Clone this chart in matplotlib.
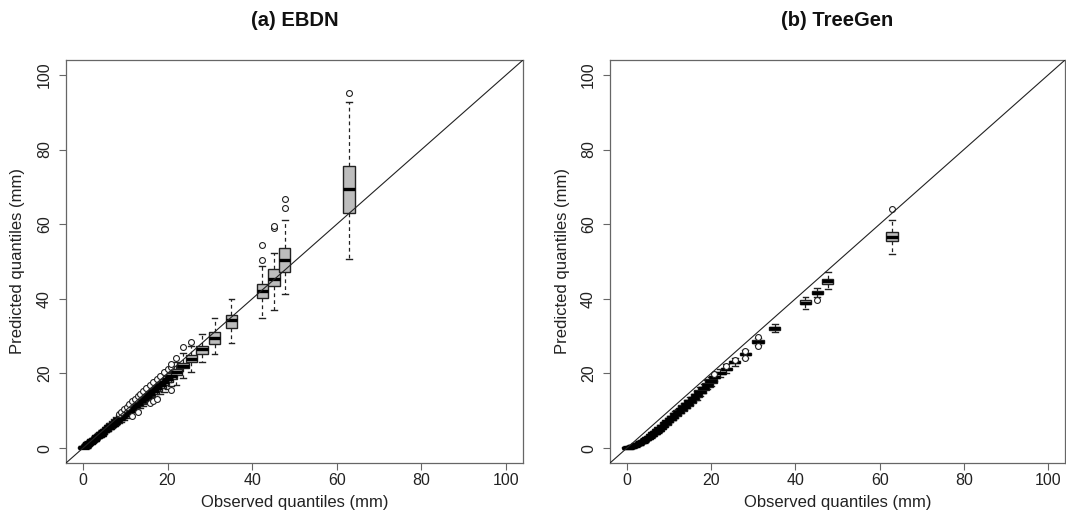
import numpy as np
import matplotlib.pyplot as plt
import matplotlib

matplotlib.rcParams['font.family'] = ['Liberation Sans', 'DejaVu Sans']

# ── observed quantiles (box positions, shared by both panels) ──────────
obs_q = [0.1, 0.3, 0.5, 0.8, 1.1, 1.4, 1.7, 2.0, 2.4, 2.8, 3.2, 3.6, 4.0, 4.4,
         4.9, 5.4, 5.9, 6.4, 6.9, 7.4, 7.9, 8.5, 9.1, 9.7, 10.3, 10.9, 11.5,
         12.2, 12.9, 13.6, 14.3, 15.0, 15.8, 16.6, 17.4, 18.2, 19.1, 20.0,
         20.8, 22.1, 23.6, 25.6, 28.1, 31.1, 35.1, 42.4, 45.2, 47.7, 62.9]

# ── (a) EBDN predicted quantiles ──────────────────────────────────────
ebdn_med = [0.1, 0.3, 0.4, 0.7, 1.0, 1.3, 1.5, 1.8, 2.2, 2.5, 2.9, 3.3, 3.6, 4.0,
            4.5, 4.9, 5.4, 5.8, 6.3, 6.8, 7.2, 7.8, 8.3, 8.9, 9.4, 10.0, 10.5,
            11.2, 11.8, 12.5, 13.1, 13.8, 14.5, 15.3, 16.0, 16.8, 17.6, 18.5,
            19.3, 20.4, 22.0, 23.9, 26.5, 29.4, 34.2, 42.1, 45.3, 50.3, 69.5]
ebdn_q1 = [0.0, 0.1, 0.3, 0.5, 0.8, 1.1, 1.3, 1.6, 2.0, 2.3, 2.7, 3.0, 3.3, 3.7,
           4.3, 4.7, 5.2, 5.6, 6.0, 6.5, 6.9, 7.5, 8.0, 8.5, 9.0, 9.6, 10.1,
           10.7, 11.3, 12.0, 12.6, 13.2, 13.9, 14.6, 15.3, 16.1, 16.9, 17.7,
           18.4, 19.6, 21.4, 23.0, 25.1, 27.9, 32.3, 40.1, 43.4, 47.1, 63.0]
ebdn_q3 = [0.2, 0.4, 0.6, 0.9, 1.2, 1.5, 1.7, 2.0, 2.4, 2.7, 3.1, 3.5, 3.9, 4.3,
           4.7, 5.1, 5.6, 6.1, 6.6, 7.1, 7.5, 8.1, 8.7, 9.3, 9.8, 10.4, 11.0,
           11.7, 12.3, 13.0, 13.7, 14.4, 15.1, 15.9, 16.7, 17.5, 18.4, 19.3,
           20.0, 21.2, 22.9, 24.9, 27.4, 31.0, 35.6, 44.1, 48.1, 53.6, 75.5]
ebdn_lo = [0.0, 0.0, 0.1, 0.3, 0.6, 0.8, 1.0, 1.3, 1.6, 1.9, 2.3, 2.6, 2.9, 3.2,
           3.9, 4.2, 4.6, 5.0, 5.4, 5.8, 6.2, 6.7, 7.1, 7.6, 8.1, 8.6, 9.0,
           9.6, 10.1, 10.7, 11.2, 11.8, 12.4, 13.1, 13.7, 14.4, 15.1, 15.9,
           16.6, 16.9, 18.9, 20.3, 23.0, 25.2, 28.2, 34.9, 37.0, 41.2, 50.8]
ebdn_hi = [0.4, 0.6, 0.8, 1.1, 1.4, 1.7, 2.0, 2.3, 2.7, 3.1, 3.5, 4.0, 4.4, 4.8,
           5.2, 5.7, 6.2, 6.7, 7.2, 7.8, 8.3, 8.9, 9.5, 10.0, 10.6, 11.2, 11.8,
           12.5, 13.2, 13.9, 14.6, 15.3, 16.1, 16.9, 17.8, 18.6, 19.6, 20.5,
           21.3, 23.2, 25.4, 27.4, 30.7, 34.8, 39.9, 48.8, 52.3, 61.0, 92.7]
ebdn_out_x = [8.5, 9.1, 9.7, 10.3, 10.9, 11.5, 12.2, 12.9, 13.6, 14.3, 15.0,
              15.8, 16.6, 17.4, 18.2, 19.1, 20.0, 20.8, 20.8, 22.1, 23.6, 25.6,
              11.5, 12.9, 15.8, 16.6, 17.4, 20.8,
              42.4, 42.4, 45.2, 45.2, 47.7, 47.7, 62.9]
ebdn_out_y = [9.2, 9.8, 10.5, 11.1, 11.8, 12.5, 13.2, 13.9, 14.6, 15.3, 16.0,
              16.8, 17.7, 18.5, 19.3, 20.3, 21.2, 21.8, 22.6, 24.1, 27.2, 28.5,
              8.6, 9.7, 12.0, 12.6, 13.2, 15.6,
              50.5, 54.4, 59.0, 59.4, 64.3, 66.7, 95.2]

# ── (b) TreeGen predicted quantiles ───────────────────────────────────
tg_med = [0.1, 0.1, 0.2, 0.3, 0.4, 0.5, 0.6, 0.8, 1.0, 1.2, 1.5, 1.7, 2.0, 2.3,
          2.7, 3.1, 3.5, 4.0, 4.4, 4.9, 5.4, 6.0, 6.6, 7.2, 7.8, 8.4, 9.0,
          9.7, 10.4, 11.1, 11.8, 12.6, 13.4, 14.2, 15.1, 16.0, 17.0, 17.9,
          19.1, 20.1, 21.2, 23.0, 25.2, 28.5, 32.1, 39.0, 41.6, 44.8, 56.5]
tg_q1 = [0.0, 0.0, 0.1, 0.2, 0.3, 0.4, 0.5, 0.7, 0.9, 1.0, 1.3, 1.5, 1.8, 2.1,
         2.5, 2.9, 3.3, 3.8, 4.2, 4.6, 5.1, 5.7, 6.3, 6.9, 7.5, 8.1, 8.7,
         9.3, 10.0, 10.7, 11.4, 12.2, 13.0, 13.8, 14.7, 15.5, 16.5, 17.4,
         18.8, 19.8, 20.9, 22.7, 24.9, 28.1, 31.7, 38.5, 41.2, 44.1, 55.5]
tg_q3 = [0.2, 0.2, 0.3, 0.4, 0.5, 0.6, 0.7, 0.9, 1.1, 1.4, 1.7, 1.9, 2.2, 2.5,
         2.9, 3.3, 3.7, 4.2, 4.6, 5.2, 5.7, 6.3, 6.9, 7.5, 8.1, 8.7, 9.3,
         10.1, 10.8, 11.5, 12.2, 13.0, 13.8, 14.6, 15.5, 16.5, 17.5, 18.4,
         19.3, 20.4, 21.5, 23.3, 25.5, 28.9, 32.5, 39.6, 42.0, 45.4, 58.0]
tg_lo = [0.0, 0.0, 0.0, 0.1, 0.1, 0.2, 0.3, 0.5, 0.7, 0.8, 1.1, 1.3, 1.6, 1.8,
         2.2, 2.6, 3.0, 3.4, 3.8, 4.3, 4.7, 5.3, 5.9, 6.4, 7.0, 7.5, 8.1,
         8.8, 9.4, 10.1, 10.7, 11.5, 12.3, 13.0, 13.9, 14.8, 15.7, 16.7,
         18.1, 19.0, 20.0, 21.9, 24.1, 27.6, 31.2, 37.4, 40.6, 42.5, 52.0]
tg_hi = [0.3, 0.3, 0.4, 0.5, 0.7, 0.8, 0.9, 1.1, 1.3, 1.6, 1.9, 2.1, 2.4, 2.8,
         3.2, 3.6, 4.0, 4.6, 5.0, 5.5, 6.1, 6.7, 7.3, 8.0, 8.6, 9.3, 9.9,
         10.6, 11.4, 12.1, 12.9, 13.7, 14.5, 15.4, 16.3, 17.2, 18.3, 19.1,
         20.1, 21.2, 22.4, 24.1, 26.3, 29.4, 33.2, 40.5, 43.0, 47.2, 61.2]
tg_out_x = [20.8, 23.6, 25.6, 28.1, 28.1, 31.1, 31.1, 45.2, 62.9]
tg_out_y = [19.8, 22.0, 23.6, 26.0, 24.1, 29.8, 27.4, 39.8, 64.0]

ticks = [0, 20, 40, 60, 80, 100]
edge_col = '#666666'


def draw_panel(ax, med, q1, q3, lo, hi, out_x, out_y, title):
    stats = []
    for i in range(len(obs_q)):
        stats.append(dict(med=med[i], q1=q1[i], q3=q3[i],
                          whislo=lo[i], whishi=hi[i], fliers=[]))
    ax.bxp(stats, positions=obs_q, widths=2.7, patch_artist=True,
           manage_ticks=False, showfliers=False,
           boxprops=dict(facecolor='#bdbdbd', edgecolor='#222222', linewidth=1.0),
           medianprops=dict(color='black', linewidth=2.4),
           whiskerprops=dict(color='#222222', linewidth=0.9, linestyle=(0, (3, 2.5))),
           capprops=dict(color='#222222', linewidth=1.0))
    ax.scatter(out_x, out_y, s=18, facecolors='white', edgecolors='#222222',
               linewidths=0.8, zorder=3)
    ax.axline((0, 0), slope=1, color='#222222', linewidth=0.8, zorder=4)

    ax.set_xlim(-4, 104)
    ax.set_ylim(-4, 104)
    ax.set_xticks(ticks)
    ax.set_yticks(ticks)
    ax.tick_params(axis='both', length=5, width=0.8, color=edge_col,
                   labelsize=11.5, labelcolor='#222222')
    ax.tick_params(axis='x', pad=2.5)
    ax.tick_params(axis='y', pad=5, labelrotation=90)
    for lab in ax.get_yticklabels():
        lab.set_verticalalignment('center')
    for sp in ax.spines.values():
        sp.set_color(edge_col)
        sp.set_linewidth(0.9)

    ax.set_xlabel('Observed quantiles (mm)', fontsize=12, color='#222222')
    ax.xaxis.set_label_coords(0.5, -40 / 403)
    ax.xaxis.label.set_verticalalignment('center')
    ax.set_ylabel('Predicted quantiles (mm)', fontsize=12, color='#222222')
    ax.yaxis.set_label_coords(-48 / 457, 0.5)
    ax.yaxis.label.set_verticalalignment('center')

    ax.text(0.5, 1 + 40 / 403, title, transform=ax.transAxes, ha='center',
            va='center', fontsize=14.5, fontweight='bold', color='#111111')


fig = plt.figure(figsize=(10.66, 5.18), dpi=100)
ax1 = fig.add_axes([66 / 1066, 1 - 463 / 518, 457 / 1066, 403 / 518])
ax2 = fig.add_axes([610 / 1066, 1 - 463 / 518, 455 / 1066, 403 / 518])

draw_panel(ax1, ebdn_med, ebdn_q1, ebdn_q3, ebdn_lo, ebdn_hi,
           ebdn_out_x, ebdn_out_y, '(a) EBDN')
draw_panel(ax2, tg_med, tg_q1, tg_q3, tg_lo, tg_hi,
           tg_out_x, tg_out_y, '(b) TreeGen')

plt.savefig('out.png', dpi=100)
